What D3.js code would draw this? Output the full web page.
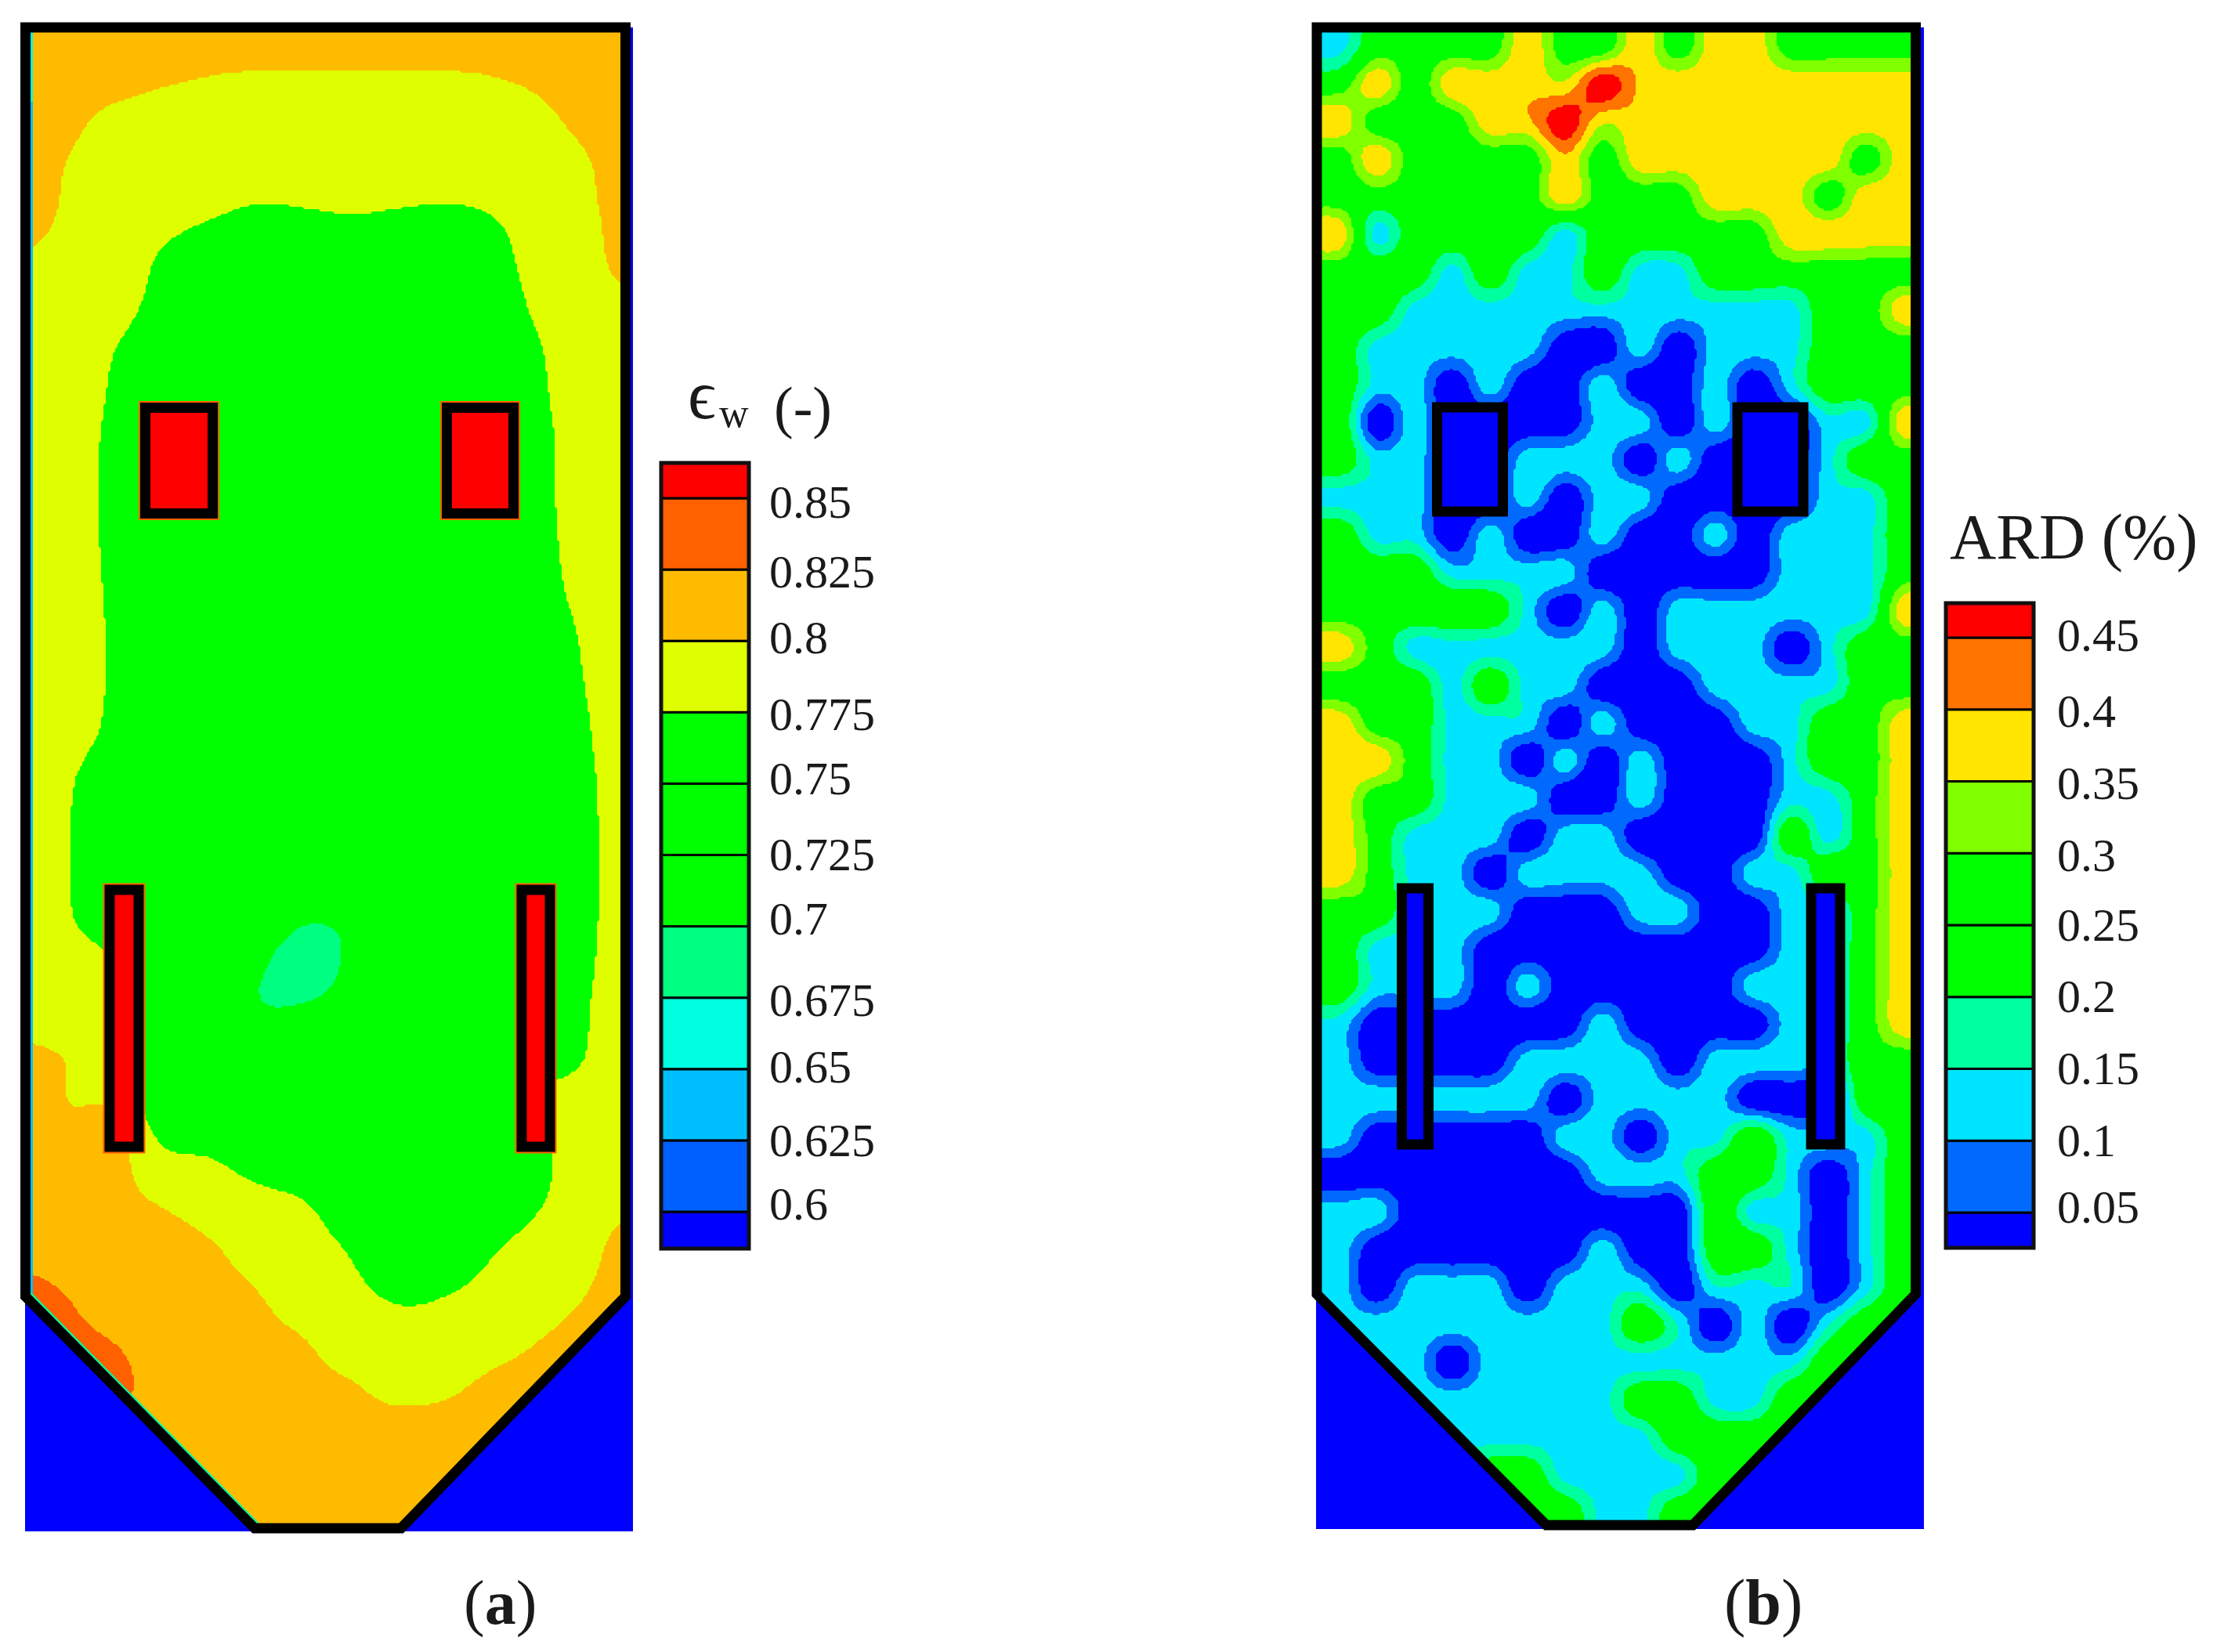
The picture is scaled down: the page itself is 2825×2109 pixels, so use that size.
<!DOCTYPE html>
<html>
<head>
<meta charset="utf-8">
<title>Wall emissivity and ARD maps</title>
<script src="https://cdn.jsdelivr.net/npm/d3@7"></script>
<style>
  html, body { margin: 0; padding: 0; background: #fff; }
  svg { display: block; }
  text { font-family: "Liberation Serif", serif; fill: #1a1a1a; }
</style>
</head>
<body>
<div id="chart"></div>
<script>
// Panel (a): wall emissivity, values x 1000
var epsRows = [
  [818,816,812,810,806,804,804,804,804,804,806,810,814,818],
  [815,812,809,804,801,800,800,800,800,800,801,804,810,815],
  [812,804,796,792,790,790,790,790,790,790,792,797,805,812],
  [809,799,792,786,783,782,782,782,782,782,784,790,799,810],
  [807,797,790,783,777,773,774,776,774,773,776,784,797,807],
  [799,794,787,772,762,755,752,752,752,755,768,783,792,812],
  [795,790,782,767,755,750,750,750,750,755,764,779,788,795],
  [794,788,774,760,750,745,745,745,745,745,759,774,789,794],
  [792,786,771,757,748,745,745,745,745,745,757,772,787,792],
  [791,784,769,755,745,745,745,745,745,745,755,770,785,791],
  [791,784,769,755,745,745,745,745,745,745,755,770,785,791],
  [791,784,769,755,745,745,745,745,745,745,754,769,784,791],
  [792,785,770,756,745,745,745,745,745,745,752,767,782,790],
  [792,786,771,757,745,745,745,745,745,745,750,763,778,788],
  [792,786,771,757,745,745,745,745,745,745,750,761,776,786],
  [791,784,769,755,745,745,745,745,745,745,748,760,774,789],
  [792,777,762,750,745,745,745,745,745,745,745,755,772,787],
  [790,775,760,750,745,745,745,745,745,745,745,752,771,786],
  [790,775,760,750,740,740,740,740,745,745,745,752,771,786],
  [790,776,760,750,735,720,704,708,725,745,745,752,771,786],
  [790,784,775,755,730,704,692,705,730,745,745,750,772,787],
  [790,786,772,755,730,704,704,715,735,745,745,750,774,790],
  [804,798,780,755,745,745,745,745,745,745,745,760,776,791],
  [806,800,796,755,745,745,745,745,745,745,760,781,785,790],
  [808,807,805,777,772,760,750,745,745,745,745,769,790,795],
  [812,810,805,797,789,781,774,760,748,745,755,773,789,797],
  [819,815,812,807,801,791,782,772,755,755,772,784,795,807],
  [829,824,816,812,806,800,789,780,771,774,783,791,800,808],
  [832,828,824,815,810,805,800,791,785,785,792,800,806,812],
  [835,832,829,816,812,808,804,801,794,797,804,808,812,815],
  [820,820,820,815,812,810,808,808,808,807,808,810,812,812],
  [812,812,812,812,812,812,812,812,812,812,812,812,812,812],
  [812,812,812,812,812,812,812,812,812,812,812,812,812,812]
];
var epsThresholds = [0.6, 0.625, 0.65, 0.675, 0.7, 0.725, 0.75, 0.775, 0.8, 0.825, 0.85];
var epsLabels = ["0.6", "0.625", "0.65", "0.675", "0.7", "0.725", "0.75", "0.775", "0.8", "0.825", "0.85"];
var epsColors = ["#0000ff", "#0060ff", "#00bfff", "#00ffe0", "#00ff80", "#00ff00", "#00ff00", "#00ff00", "#dfff00", "#ffbb00", "#ff6000", "#ff0000"];

var B = 0, C = 0.13, D = 0.148, G = 0.26, L = 0.36, Y = 0.39, R = 0.49;
var ardRows = [
  [C,C,G,G,G,G,Y,G,G,Y,G,Y,Y,G,G,G,G,G],
  [C,C,G,G,G,G,Y,G,G,Y,G,Y,Y,G,G,G,G,G],
  [G,G,Y,G,Y,Y,Y,L,R,Y,Y,Y,Y,Y,Y,Y,Y,Y],
  [Y,Y,G,G,G,Y,Y,R,L,Y,Y,Y,Y,Y,Y,Y,Y,Y],
  [G,G,Y,G,G,G,G,Y,G,Y,Y,Y,Y,Y,Y,G,Y,Y],
  [G,G,G,G,G,G,G,Y,G,G,G,Y,Y,Y,G,Y,Y,Y],
  [Y,Y,C,G,G,G,G,C,G,G,G,G,G,Y,Y,Y,Y,Y],
  [G,G,G,G,C,G,C,C,G,C,C,G,G,G,G,G,G,G],
  [G,G,G,C,C,C,C,C,C,C,C,C,C,C,G,G,Y,Y],
  [G,G,C,C,C,C,C,B,B,C,B,C,C,C,G,G,G,G],
  [G,G,C,C,B,C,B,B,C,B,B,C,B,C,G,G,G,G],
  [G,G,B,C,B,B,B,B,C,C,B,C,B,B,C,C,Y,Y],
  [G,G,C,C,B,B,C,C,C,B,C,B,B,B,C,G,G,G],
  [C,C,C,C,B,B,C,B,C,C,B,B,B,B,C,C,G,G],
  [G,G,C,C,B,C,B,B,C,B,B,C,B,C,C,C,G,G],
  [G,G,G,G,C,C,C,C,B,B,B,B,B,C,C,C,G,G],
  [G,G,G,G,G,G,C,B,C,B,C,C,C,C,C,C,Y,Y],
  [Y,Y,G,C,C,C,C,C,C,B,C,C,C,B,C,G,G,G],
  [G,G,G,G,C,G,C,C,B,B,B,C,C,C,C,G,G,G],
  [Y,Y,G,G,C,C,C,B,C,B,B,B,C,C,G,G,Y,Y],
  [Y,Y,Y,G,C,C,B,C,B,C,B,B,B,C,G,G,Y,Y],
  [Y,Y,G,G,C,C,C,B,B,C,B,B,B,C,C,G,Y,Y],
  [Y,Y,G,C,C,C,B,C,C,B,B,B,B,G,C,G,Y,Y],
  [Y,Y,G,C,C,B,C,C,C,C,B,B,C,C,G,G,Y,Y],
  [G,G,G,C,C,C,B,B,B,C,C,B,B,C,C,G,Y,Y],
  [G,G,C,C,C,B,B,B,B,B,B,B,B,C,C,G,Y,Y],
  [G,G,C,C,C,B,C,B,B,B,B,B,C,C,C,G,Y,Y],
  [C,C,B,B,B,B,B,B,C,B,B,B,B,C,C,G,Y,Y],
  [C,C,B,B,B,B,C,C,C,C,B,C,C,C,C,G,G,G],
  [C,C,C,C,C,C,C,B,C,C,C,C,B,B,B,G,G,G],
  [C,C,B,B,B,B,B,C,C,B,C,C,G,C,C,C,G,G],
  [B,B,B,B,B,B,B,B,C,C,C,G,G,C,B,C,G,G],
  [C,C,C,B,B,B,B,B,B,B,B,G,C,C,B,C,G,G],
  [C,C,B,B,B,B,B,B,C,B,B,G,G,C,B,C,G,G],
  [C,C,B,C,C,C,B,C,C,C,B,D,C,D,B,C,G,G],
  [C,C,C,C,C,C,C,C,C,G,D,B,C,B,D,G,G,G],
  [C,C,C,C,B,C,C,C,C,C,C,C,C,C,G,G,G,G],
  [C,C,C,C,C,C,C,C,C,G,G,C,C,G,G,G,G,G],
  [C,C,C,C,C,C,C,C,C,C,G,G,G,G,G,G,G,G],
  [C,C,C,C,C,G,G,C,C,C,C,G,G,G,G,G,G,G],
  [C,C,C,C,C,G,G,G,C,C,G,G,G,G,G,G,G,G],
  [C,C,C,C,C,G,G,G,C,C,G,G,G,G,G,G,G,G]
];
var ardThresholds = [0.05, 0.1, 0.15, 0.2, 0.25, 0.3, 0.35, 0.4, 0.45];
var ardLabels = ["0.05", "0.1", "0.15", "0.2", "0.25", "0.3", "0.35", "0.4", "0.45"];
var ardColors = ["#0000ff", "#006aff", "#00e5ff", "#00ff9f", "#00ff00", "#00ff00", "#7fff00", "#ffe500", "#ff7300", "#ff0000"];

var svgWidth = 2825;
var svgHeight = 2109;
var frameStroke = 13;
var rasterCell = 3;

var svg = d3.select("#chart")
    .append("svg")
    .attr("width", svgWidth)
    .attr("height", svgHeight);

// Catmull-Rom weights, keeps the node values and rounds the blobs
function cubic(a, b, c, d, t) {
    return b + 0.5 * t * (c - a + t * (2 * a - 5 * b + 4 * c - d + t * (3 * (b - c) + d - a)));
}

// resample the node grid to a raster so the contours come out stepped like the original
function rasterize(rows, step, cell) {
    var nx = rows[0].length, ny = rows.length;
    var w = Math.floor((nx - 1) * step / cell);
    var h = Math.floor((ny - 1) * step / cell);
    var out = new Array(w * h);
    var at = (r, c) => rows[Math.max(0, Math.min(ny - 1, r))][Math.max(0, Math.min(nx - 1, c))];
    for (var j = 0; j < h; j++) {
        var gy = (j + 0.5) * cell / step;
        var r = Math.floor(gy), ty = gy - r;
        for (var i = 0; i < w; i++) {
            var gx = (i + 0.5) * cell / step;
            var c = Math.floor(gx), tx = gx - c;
            var col = [-1, 0, 1, 2].map(k => cubic(at(r + k, c - 1), at(r + k, c), at(r + k, c + 1), at(r + k, c + 2), tx));
            var corners = [at(r, c), at(r, c + 1), at(r + 1, c), at(r + 1, c + 1)];
            // no overshoot past the four nodes of the cell
            out[j * w + i] = Math.max(d3.min(corners), Math.min(d3.max(corners), cubic(col[0], col[1], col[2], col[3], ty)));
        }
    }
    return { w: w, h: h, values: out };
}

function drawPanel(opt) {
    var g = svg.append("g");
    var f = opt.frame;
    var outline = [[f.left, f.top], [f.right, f.top], [f.right, f.shoulder],
                   [f.botRight, f.bottom], [f.botLeft, f.bottom], [f.left, f.shoulder]];
    var outlinePath = d3.line()(outline) + "Z";

    // blue backing shows in the hopper corners
    g.append("rect")
        .attr("x", opt.back[0]).attr("y", f.top)
        .attr("width", opt.back[1] - opt.back[0])
        .attr("height", opt.back[2] - f.top)
        .attr("fill", "#0000ff");

    g.append("clipPath").attr("id", opt.id + "-clip")
        .append("path").attr("d", outlinePath);

    var raster = rasterize(opt.rows, opt.gridStep, rasterCell);
    var contours = d3.contours()
        .size([raster.w, raster.h])
        .smooth(false)
        .thresholds(opt.thresholds)(raster.values);

    var field = g.append("g").attr("clip-path", `url(#${opt.id}-clip)`);
    field.append("rect")
        .attr("x", opt.back[0]).attr("y", f.top)
        .attr("width", opt.back[1] - opt.back[0])
        .attr("height", opt.back[2] - f.top)
        .attr("fill", opt.colors[0]);

    field.append("g")
        .attr("transform", `translate(${opt.gridX},${opt.gridY}) scale(${rasterCell})`)
        .selectAll("path")
        .data(contours)
        .enter()
        .append("path")
        .attr("d", d3.geoPath())
        .attr("shape-rendering", "crispEdges")
        .attr("fill", (d, i) => opt.colors[i + 1]);

    // thin bright sliver left along the wall
    field.selectAll("line")
        .data(opt.edges)
        .enter()
        .append("line")
        .attr("x1", d => d[0]).attr("y1", d => d[1])
        .attr("x2", d => d[2]).attr("y2", d => d[3])
        .attr("stroke", d => d[4])
        .attr("stroke-width", 3);

    // burners and openings
    if (opt.portHalo) {
        g.selectAll("rect.halo")
            .data(opt.ports)
            .enter()
            .append("rect")
            .attr("class", "halo")
            .attr("x", d => d[0]).attr("y", d => d[2])
            .attr("width", d => d[1] - d[0])
            .attr("height", d => d[3] - d[2])
            .attr("fill", "none")
            .attr("stroke", opt.portHalo)
            .attr("stroke-width", frameStroke + 4);
    }

    g.selectAll("rect.port")
        .data(opt.ports)
        .enter()
        .append("rect")
        .attr("class", "port")
        .attr("x", d => d[0]).attr("y", d => d[2])
        .attr("width", d => d[1] - d[0])
        .attr("height", d => d[3] - d[2])
        .attr("fill", opt.portFill)
        .attr("stroke", "#000")
        .attr("stroke-width", frameStroke);

    g.append("path")
        .attr("d", outlinePath)
        .attr("fill", "none")
        .attr("stroke", "#000")
        .attr("stroke-width", frameStroke)
        .attr("stroke-linejoin", "miter");
}

function drawLegend(opt) {
    var g = svg.append("g");
    var y = d3.scaleLinear()
        .domain([opt.thresholds[0], opt.thresholds[opt.thresholds.length - 1]])
        .range(opt.range);

    var edges = [opt.bottom].concat(opt.thresholds.map(d => y(d)), [opt.top]);
    g.selectAll("rect")
        .data(opt.colors)
        .enter()
        .append("rect")
        .attr("x", opt.x)
        .attr("width", opt.width)
        .attr("y", (d, i) => edges[i + 1])
        .attr("height", (d, i) => edges[i] - edges[i + 1])
        .attr("fill", d => d)
        .attr("stroke", "#000")
        .attr("stroke-width", 3);

    g.append("rect")
        .attr("x", opt.x).attr("y", opt.top)
        .attr("width", opt.width).attr("height", opt.bottom - opt.top)
        .attr("fill", "none").attr("stroke", "#111").attr("stroke-width", 5);

    var axis = d3.axisRight(y)
        .tickValues(opt.thresholds)
        .tickSize(0)
        .tickPadding(opt.padding)
        .tickFormat((d, i) => opt.labels[i]);

    var ax = g.append("g")
        .attr("transform", `translate(${opt.x + opt.width},0)`)
        .call(axis);
    ax.select(".domain").remove();
    ax.selectAll("text")
        .attr("y", (d, i) => opt.nudge[i])
        .style("font-family", '"Liberation Serif", serif')
        .style("font-size", "60px")
        .style("fill", "#1a1a1a");
}

drawPanel({
    id: "eps",
    rows: epsRows.map(r => r.map(v => v / 1000)),
    gridX: 30, gridY: 30, gridStep: 60,
    thresholds: epsThresholds,
    colors: epsColors,
    frame: { left: 32.5, right: 798.5, top: 35, shoulder: 1655, bottom: 1951, botLeft: 325, botRight: 512 },
    back: [32, 808, 1955],
    portFill: "#ff0000",
    portHalo: "#ff6000",
    ports: [[185.5, 271.5, 520.5, 655.5], [570.5, 655.5, 520.5, 655.5], [140, 177, 1136, 1464], [666, 702, 1136, 1464]],
    edges: [[40.5, 41, 40.5, 130, "#00ffe0"], [40.5, 130, 40.5, 1655, "#00bfff"], [38, 1650, 330, 1946, "#00ffa0"]]
});

drawPanel({
    id: "ard",
    rows: ardRows,
    gridX: 1662.4, gridY: 11, gridStep: 48,
    thresholds: ardThresholds,
    colors: ardColors,
    frame: { left: 1681, right: 2445.5, top: 35, shoulder: 1652, bottom: 1947, botLeft: 1974, botRight: 2161 },
    back: [1680, 2456, 1952],
    portFill: "#0000ff",
    ports: [[1834.5, 1918.5, 520, 653], [2218, 2302, 520, 653], [1789.5, 1823.5, 1134, 1461], [2312, 2349, 1134, 1461]],
    edges: []
});

drawLegend({
    thresholds: epsThresholds, labels: epsLabels, colors: epsColors,
    x: 844, width: 112, top: 591, bottom: 1594, range: [1547, 636],
    padding: 26, nudge: [-10, 0, -3, 4, -9, 0, -6, 3, -4, 3, 5]
});

drawLegend({
    thresholds: ardThresholds, labels: ardLabels, colors: ardColors,
    x: 2484, width: 112, top: 770, bottom: 1593, range: [1548, 814],
    padding: 30, nudge: [-7, 0, 0, 0, 0, 3, 3, 3, -3]
});

// Legend titles and panel letters
svg.append("text").attr("x", 878).attr("y", 534).style("font-size", "88px").text("\u03f5");
svg.append("text").attr("x", 918).attr("y", 545).style("font-size", "52px").text("w");
svg.append("text").attr("x", 988).attr("y", 545).style("font-size", "74px").text("(-)");

svg.append("text").attr("x", 2489).attr("y", 713).style("font-size", "82px").text("ARD (%)");

var captionA = svg.append("text").attr("x", 592).attr("y", 2073).style("font-size", "80px");
captionA.append("tspan").text("(");
captionA.append("tspan").style("font-weight", "bold").text("a");
captionA.append("tspan").text(")");

var captionB = svg.append("text").attr("x", 2201).attr("y", 2073).style("font-size", "82px");
captionB.append("tspan").text("(");
captionB.append("tspan").style("font-weight", "bold").text("b");
captionB.append("tspan").text(")");
</script>
</body>
</html>
